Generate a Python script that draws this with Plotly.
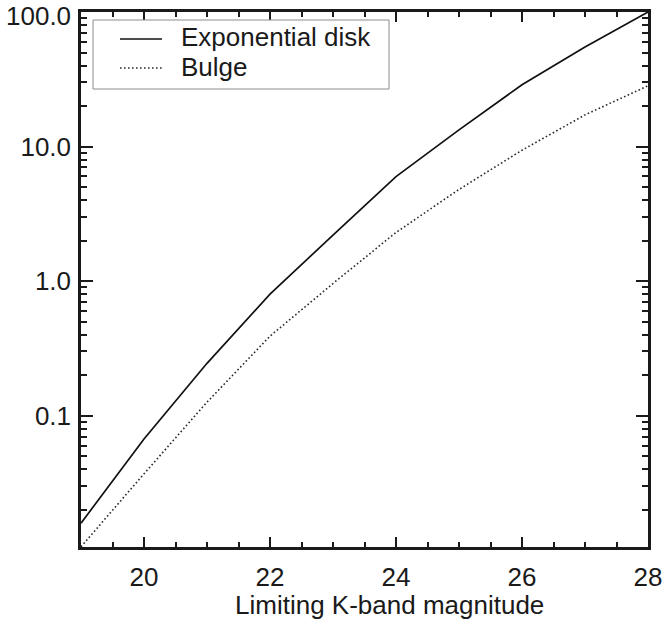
import plotly.graph_objects as go

# ---- data ----
magnitude = [19, 20, 21, 22, 23, 24, 25, 26, 27, 28]
exp_disk = [0.0159, 0.067, 0.245, 0.80, 2.2, 5.98, 13.3, 28.8, 55.0, 100.0]
bulge = [0.0106, 0.037, 0.126, 0.39, 0.96, 2.3, 4.8, 9.4, 17.2, 28.3]

y_tick_vals = [0.1, 1.0, 10.0, 100.0]
y_tick_text = ["0.1", "1.0", "10.0", "100.0"]
x_tick_vals = [20, 22, 24, 26, 28]
series_names = ["Exponential disk", "Bulge"]
x_title = "Limiting K-band magnitude"

FONT = "Liberation Sans, Arial, Helvetica, sans-serif"
INK = "#1a1a1a"

y_minor = [m * 10 ** k for k in range(-2, 2) for m in range(2, 10)]

fig = go.Figure()
fig.add_trace(go.Scatter(x=magnitude, y=exp_disk, mode="lines", name=series_names[0],
                         line=dict(color="#111111", width=1.7), showlegend=False))
fig.add_trace(go.Scatter(x=magnitude, y=bulge, mode="lines", name=series_names[1],
                         line=dict(color="#2a2a2a", width=1.6, dash="1.6px,2.4px"), showlegend=False))

axis_common = dict(
    showline=True, linecolor=INK, linewidth=2.5, mirror="ticks",
    ticks="inside", tickcolor=INK, tickwidth=2,
    showgrid=False, zeroline=False, ticklabeloverflow="allow",
    tickfont=dict(family=FONT, size=26, color=INK),
)

# the top label (100.0) sits at the very top edge; it is written just below its tick
# (as in the reference) so that it is not clipped by the page edge
axis_tick_text = [t if v != y_tick_vals[-1] else "" for v, t in zip(y_tick_vals, y_tick_text)]

fig.update_xaxes(
    range=[19, 28], tickmode="array", tickvals=x_tick_vals, ticklen=10,
    ticklabelstandoff=5, automargin=False,
    minor=dict(dtick=0.5, ticks="inside", ticklen=5, tickwidth=2, tickcolor=INK, showgrid=False),
    **axis_common,
)
fig.update_yaxes(
    type="log", range=[-1.976, 2.0002], tickmode="array",
    tickvals=y_tick_vals, ticktext=axis_tick_text, ticklen=12,
    ticklabelstandoff=2, automargin=False,
    minor=dict(tickmode="array", tickvals=y_minor, ticks="inside", ticklen=6, tickwidth=2,
               tickcolor=INK, showgrid=False),
    **axis_common,
)

# legend drawn as a boxed key in the upper-left corner
L, R, T, B = 81, 648, 12, 547
W, H = R - L, B - T
px = lambda x: (x - L) / W
py = lambda y: 1 - (y - T) / H

fig.add_annotation(text=y_tick_text[-1], xref="paper", yref="paper", x=px(72), y=py(16.5),
                   xanchor="right", yanchor="middle", showarrow=False, borderpad=0,
                   font=dict(family=FONT, size=26, color=INK))

fig.add_shape(type="rect", xref="paper", yref="paper",
              x0=px(93), x1=px(389), y0=py(89), y1=py(20),
              line=dict(color="#8c8c8c", width=1), fillcolor="white", layer="above")
fig.add_shape(type="line", xref="paper", yref="paper",
              x0=px(120), x1=px(162), y0=py(39), y1=py(39),
              line=dict(color="#111111", width=1.7))
fig.add_shape(type="line", xref="paper", yref="paper",
              x0=px(120), x1=px(162), y0=py(68), y1=py(68),
              line=dict(color="#2a2a2a", width=1.6, dash="1.6px,2.4px"))
for name, yc in zip(series_names, [36.5, 66.5]):
    fig.add_annotation(text=name, xref="paper", yref="paper", x=px(180), y=py(yc),
                       xanchor="left", yanchor="middle", showarrow=False, borderpad=0,
                       font=dict(family=FONT, size=26, color=INK))

fig.add_annotation(text=x_title, xref="paper", yref="paper", x=px(389), y=py(605),
                   xanchor="center", yanchor="middle", showarrow=False, borderpad=0,
                   font=dict(family=FONT, size=26, color=INK))

fig.update_layout(
    width=663, height=620,
    margin=dict(l=L, r=663 - R, t=T, b=620 - B),
    paper_bgcolor="white", plot_bgcolor="white",
    font=dict(family=FONT, color=INK),
)

fig.write_html("out.html", config={"displayModeBar": False},
               post_script="document.body.style.margin='0';")
